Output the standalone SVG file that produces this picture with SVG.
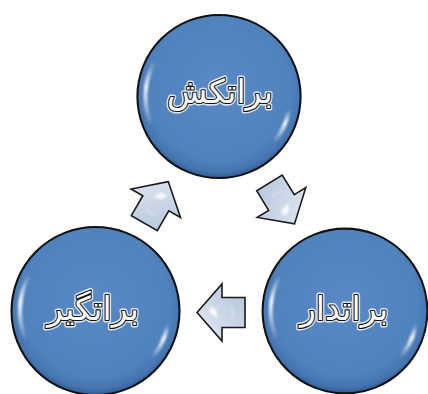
<svg xmlns="http://www.w3.org/2000/svg" xmlns:xlink="http://www.w3.org/1999/xlink" width="428" height="394" viewBox="0 0 428 394">
  <style>
    .lbl{font-family:"DejaVu Sans","Noto Sans",sans-serif;font-weight:normal;font-size:33px;text-anchor:middle;direction:rtl}
    .glow{fill:#fff;stroke:#fff;stroke-width:5;stroke-linejoin:round;opacity:0.8}
    .txt{fill:#fff;stroke:#111;stroke-width:2.2;stroke-linejoin:round;paint-order:stroke}
    .hl{fill:none;stroke:url(#hlGrad);stroke-width:4;stroke-linecap:round;filter:url(#soft)}
    .arr{fill:url(#arrGrad);stroke:#1a1a1a;stroke-width:1.6;stroke-linejoin:miter}
    .ahl{fill:#fff;opacity:0.85;filter:url(#soft)}
  </style>
  <defs>
    <radialGradient id="ballFill" cx="0.5" cy="0.45" r="0.55">
      <stop offset="0" stop-color="#5a89c5"/>
      <stop offset="0.8" stop-color="#5082be"/>
      <stop offset="0.93" stop-color="#4575b0"/>
      <stop offset="1" stop-color="#2f5a90"/>
    </radialGradient>
    <linearGradient id="hlGrad" x1="0" y1="0" x2="0" y2="1">
      <stop offset="0" stop-color="#fff" stop-opacity="0.1"/>
      <stop offset="0.4" stop-color="#fff" stop-opacity="0.95"/>
      <stop offset="1" stop-color="#fff" stop-opacity="0.1"/>
    </linearGradient>
    <linearGradient id="arrGrad" x1="0" y1="1" x2="1" y2="0">
      <stop offset="0" stop-color="#b3c3db"/>
      <stop offset="1" stop-color="#e4ebf5"/>
    </linearGradient>
    <filter id="soft" x="-50%" y="-50%" width="200%" height="200%">
      <feGaussianBlur stdDeviation="0.8"/>
    </filter>
    <g id="ball">
      <circle r="80" fill="url(#ballFill)" stroke="#111" stroke-width="2"/>
      <path class="hl" d="M-64.7 -31.6 A72 72 0 0 0 -67.7 24.6"/>
      <path class="hl" d="M68.5 14.6 A70 70 0 0 1 55.2 43.1"/>
    </g>
    <g id="arrow">
      <path class="arr" d="M24 0 L-1 -28.5 L-1 -15 L-24 -15 L-24 15 L-1 15 L-1 28.5 Z"/>
      <path class="ahl" d="M3 -6 L11 -1 L11 6 L5 3 Z"/>
      <path class="ahl" d="M-10 -6 Q-15 0 -10 6 L-12 0 Z"/>
    </g>
  </defs>

  <g id="connectors">
    <use xlink:href="#arrow" href="#arrow" transform="translate(282 203.4) rotate(58.5)"/>
    <use xlink:href="#arrow" href="#arrow" transform="translate(221 312.5) rotate(180)"/>
    <use xlink:href="#arrow" href="#arrow" transform="translate(156.3 202.4) rotate(-60)"/>
  </g>

  <g id="node-top">
    <use xlink:href="#ball" href="#ball" transform="translate(219 96.5) scale(1.02)"/>
    <text class="lbl glow" x="220" y="103">براتکش</text>
    <text class="lbl txt" x="220" y="103">براتکش</text>
  </g>

  <g id="node-left">
    <use xlink:href="#ball" href="#ball" transform="translate(95.5 311) scale(1.05)"/>
    <text class="lbl glow" x="93" y="320">براتگیر</text>
    <text class="lbl txt" x="93" y="320">براتگیر</text>
  </g>

  <g id="node-right">
    <use xlink:href="#ball" href="#ball" transform="translate(345 311) scale(1.03)"/>
    <text class="lbl glow" x="344" y="320">براتدار</text>
    <text class="lbl txt" x="344" y="320">براتدار</text>
  </g>
</svg>
